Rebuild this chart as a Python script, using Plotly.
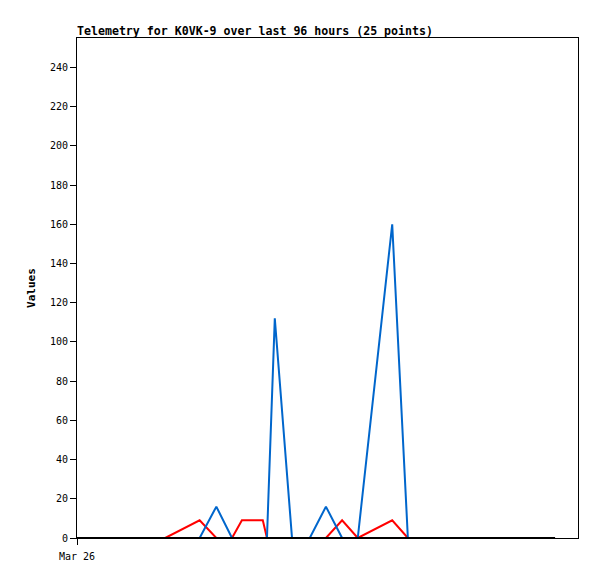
import plotly.graph_objects as go

# hours since Mar 26 00:00 for each of the 25 telemetry packets
hours = [0, 4.4, 9.2, 13.0, 16.9, 23.5, 26.7, 29.7, 31.6, 35.6, 36.4, 37.9, 41.2,
         44.6, 47.7, 50.8, 53.8, 60.4, 63.4, 67.6, 72.4, 77.2, 82.0, 86.8, 91.6]

red_vals = [0, 0, 0, 0, 0, 9, 0, 0, 9, 9, 0, 0, 0,
            0, 0, 9, 0, 9, 0, 0, 0, 0, 0, 0, 0]
blue_vals = [0, 0, 0, 0, 0, 0, 16, 0, 0, 0, 0, 112, 0,
             0, 16, 0, 0, 160, 0, 0, 0, 0, 0, 0, 0]
black_vals = [0] * 25

y_ticks = list(range(0, 241, 20))

mono = "DejaVu Sans Mono"

fig = go.Figure()

fig.add_trace(go.Scatter(x=hours, y=red_vals, mode="lines",
                         line=dict(color="#FF0000", width=2), name="red"))
fig.add_trace(go.Scatter(x=hours, y=blue_vals, mode="lines",
                         line=dict(color="#0066CC", width=2), name="blue"))
fig.add_trace(go.Scatter(x=hours, y=black_vals, mode="lines",
                         line=dict(color="#000000", width=2), name="black"))

# page body adds an 8px offset, so margins are trimmed to compensate
fig.update_layout(
    width=597,
    height=579,
    showlegend=False,
    paper_bgcolor="white",
    plot_bgcolor="white",
    margin=dict(l=69, r=27, t=30, b=49),
    font=dict(family=mono, size=10, color="black"),
    title=dict(
        text="<b>Telemetry for K0VK-9 over last 96 hours (25 points)</b>",
        font=dict(family=mono, size=11.6, color="black"),
        x=0, xref="paper", xanchor="left",
        y=1, yref="paper", yanchor="bottom",
        pad=dict(b=3),
    ),
)

fig.update_xaxes(
    range=[0, 96],
    tickvals=[0],
    ticktext=["Mar 26"],
    ticks="outside",
    ticklen=6,
    tickcolor="black",
    ticklabelstandoff=3,
    showline=True,
    linecolor="black",
    linewidth=1,
    mirror=True,
    showgrid=False,
    zeroline=False,
    automargin=False,
)

fig.update_yaxes(
    range=[0, 255],
    tickvals=y_ticks,
    ticks="outside",
    ticklen=6,
    tickcolor="black",
    showline=True,
    linecolor="black",
    linewidth=1,
    mirror=True,
    showgrid=False,
    zeroline=False,
    automargin=False,
    title=dict(text="<b>Values</b>", font=dict(family=mono, size=11), standoff=12),
)

fig.write_html("out.html")
